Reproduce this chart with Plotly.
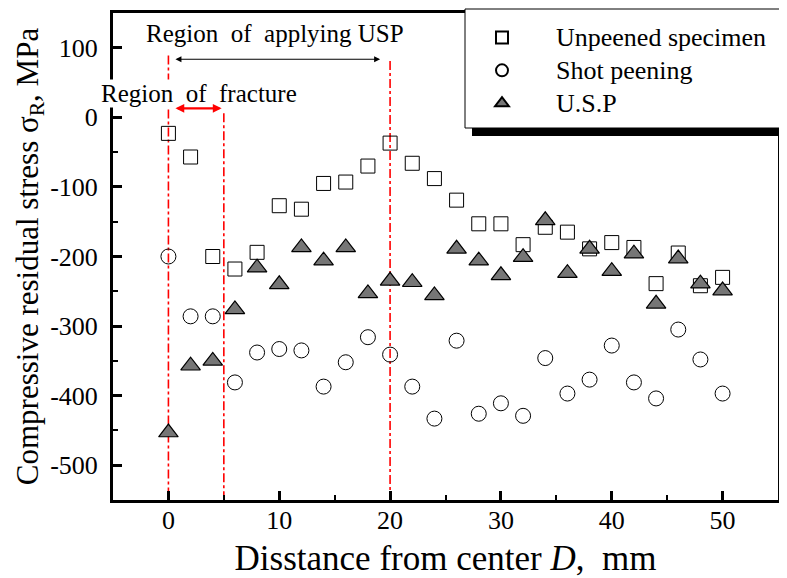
import plotly.graph_objects as go

# ---- data ----
distance = [0, 2, 4, 6, 8, 10, 12, 14, 16, 18, 20, 22, 24, 26, 28, 30, 32, 34, 36, 38, 40, 42, 44, 46, 48, 50]
unpeened = [-23, -57, -200, -218, -194, -127, -132, -95, -93, -70, -37, -66, -88, -119, -153, -153, -183, -158, -165, -189, -180, -187, -239, -195, -242, -230]
shot_peening = [-200, -286, -286, -381, -338, -333, -335, -387, -352, -316, -341, -387, -433, -321, -426, -411, -429, -346, -397, -377, -328, -381, -404, -305, -348, -397]
usp = [-453, -357, -350, -276, -216, -240, -187, -206, -187, -253, -235, -237, -256, -189, -206, -227, -201, -148, -224, -189, -221, -196, -268, -203, -239, -249]

series_names = ["Unpeened specimen", "Shot peening", "U.S.P"]
x_ticks = [0, 10, 20, 30, 40, 50]
y_ticks = [100, 0, -100, -200, -300, -400, -500]
y_ticklabels = ["100", "0", "-100", "-200", "-300", "-400", "-500"]
region_bounds = [0, 5, 20]
region_tops = [89, 6, 81]

FONT = "Liberation Serif"
OFF = 8  # page body margin
W, H = 779, 570
L, R, T, B = 105, 9, 5, 78
pw, ph = W - L - R, H - T - B

def px_x(p):
    return (p - OFF - L) / pw

def px_y(p):
    return (H - B - (p - OFF)) / ph

fig = go.Figure()
fig.add_trace(go.Scatter(
    x=distance, y=unpeened, mode="markers",
    name='<span style="font-size:26px">' + series_names[0] + '</span>',
    marker=dict(symbol="square-open", size=14, color="black", line=dict(width=1, color="black"))))
fig.add_trace(go.Scatter(
    x=distance, y=shot_peening, mode="markers",
    name='<span style="font-size:26px">' + series_names[1] + '</span>',
    marker=dict(symbol="circle-open", size=15, color="black", line=dict(width=1, color="black"))))
fig.add_trace(go.Scatter(
    x=distance, y=usp, mode="markers",
    name='<span style="font-size:26px">' + series_names[2] + '</span>',
    marker=dict(symbol="triangle-up", size=17, color="#767676", line=dict(width=1.2, color="black"))))

shapes = []
for xb, yt in zip(region_bounds, region_tops):
    shapes.append(dict(type="line", xref="x", yref="y", x0=xb, x1=xb, y0=yt, y1=-550,
                       line=dict(color="red", width=1.6, dash="dashdot"), layer="below"))
# legend box + shadow
shapes.append(dict(type="rect", xref="paper", yref="paper",
                   x0=px_x(472), x1=px_x(820), y0=px_y(136), y1=px_y(127),
                   fillcolor="black", line=dict(width=0), layer="above"))
shapes.append(dict(type="rect", xref="paper", yref="paper",
                   x0=px_x(465), x1=px_x(820), y0=px_y(128), y1=px_y(9),
                   fillcolor="white", line=dict(width=1, color="black"), layer="above"))

annotations = [
    dict(x=9.6, y=120, xref="x", yref="y", text="Region\u00a0\u00a0of\u00a0\u00a0applying USP",
         showarrow=False, font=dict(family=FONT, size=25, color="black")),
    dict(x=2.8, y=34, xref="x", yref="y", text="Region\u00a0\u00a0of\u00a0\u00a0fracture",
         showarrow=False, font=dict(family=FONT, size=25, color="black"), bgcolor="white", borderpad=0),
    dict(x=19.1, y=83.5, ax=0.5, ay=83.5, xref="x", yref="y", axref="x", ayref="y", text="",
         showarrow=True, arrowside="end+start", arrowhead=2, arrowsize=1, arrowwidth=1.2, arrowcolor="black"),
    dict(x=4.8, y=13, ax=0.5, ay=13, xref="x", yref="y", axref="x", ayref="y", text="",
         showarrow=True, arrowside="end+start", arrowhead=2, arrowsize=0.8, arrowwidth=2.2, arrowcolor="red"),
]

fig.update_layout(
    width=W, height=H,
    margin=dict(l=L, r=R, t=T, b=B),
    paper_bgcolor="white", plot_bgcolor="white",
    font=dict(family=FONT, size=25, color="black"),
    shapes=shapes, annotations=annotations,
    showlegend=True,
    legend=dict(x=px_x(448), y=px_y(16), xanchor="left", yanchor="top",
                bgcolor="rgba(0,0,0,0)", borderwidth=0,
                font=dict(family=FONT, size=23, color="black"),
                itemwidth=98, itemsizing="constant"),
)
fig.update_xaxes(
    range=[-5, 55], tickvals=x_ticks, showgrid=False, zeroline=False, automargin=False,
    showline=True, linewidth=3, linecolor="black", mirror=True,
    ticks="inside", ticklen=9, tickwidth=2.5, tickcolor="black",
    minor=dict(ticks="inside", ticklen=5, tickwidth=2, dtick=5, tickcolor="black", showgrid=False),
    tickfont=dict(family=FONT, size=26, color="black"), ticklabelstandoff=-5,
    title=dict(text="Disstance from center <i>D</i>,\u00a0\u00a0mm", font=dict(family=FONT, size=35, color="black"), standoff=15),
)
fig.update_yaxes(
    range=[-550, 150], tickvals=y_ticks, ticktext=y_ticklabels, showgrid=False, zeroline=False, automargin=False,
    showline=True, linewidth=3, linecolor="black", mirror=True,
    ticks="inside", ticklen=9, tickwidth=2.5, tickcolor="black",
    minor=dict(ticks="inside", ticklen=5, tickwidth=2, dtick=50, tickcolor="black", showgrid=False),
    tickfont=dict(family=FONT, size=26, color="black"), ticklabelstandoff=7,
    title=dict(text="Compressive residual stress σ<sub>R</sub>, MPa", font=dict(family=FONT, size=31, color="black"), standoff=3),
)

fig.write_html("out.html")
